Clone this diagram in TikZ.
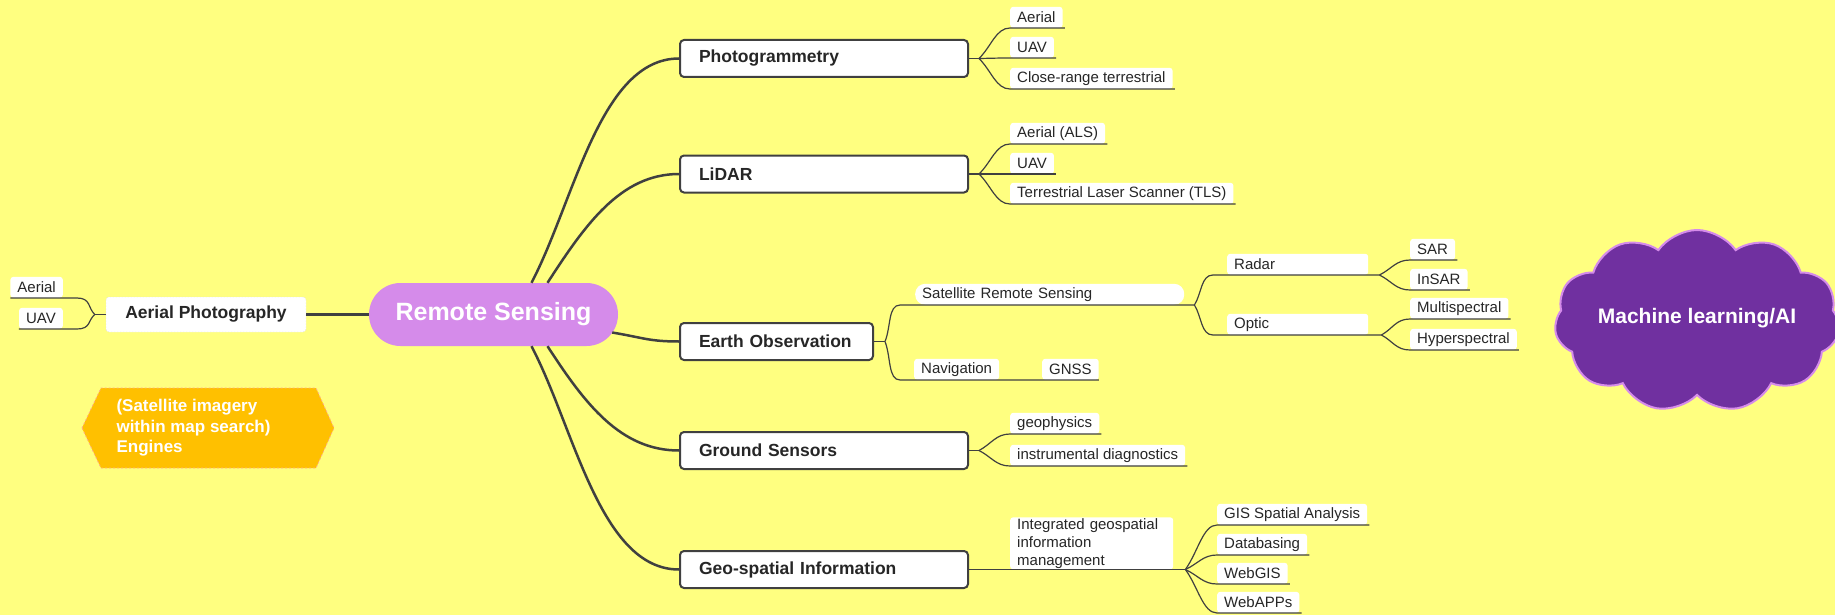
\documentclass[tikz,border=0pt]{standalone}
\usepackage{fontspec}
\setmainfont{Liberation Sans}
\usetikzlibrary{calc,positioning,shapes.symbols}
\definecolor{bgyellow}{HTML}{FFFF80}
\definecolor{hubpurple}{HTML}{D58BEA}
\definecolor{cloudpurple}{HTML}{7030A0}
\definecolor{engorange}{HTML}{FFC000}
\definecolor{linegray}{HTML}{404040}
\begin{document}
\begin{tikzpicture}[x=1pt,y=-1pt,
	hub/.style={fill=hubpurple,text=white,font=\fontsize{25}{30}\selectfont\bfseries,minimum width=249pt,minimum height=63pt,rounded corners=31.5pt,inner sep=0pt},
	branch/.style={anchor=west,draw=linegray,line width=2pt,fill=white,rounded corners=4pt,minimum height=37pt,inner xsep=19pt,text width=250pt,align=left,text=black!85,font=\fontsize{17.5}{21}\selectfont\bfseries},
	leaf/.style={anchor=south west,fill=white,rounded corners=3pt,minimum height=21pt,inner xsep=7pt,inner ysep=1pt,align=left,text=black!85,font=\fontsize{15}{18}\selectfont},
	limb/.style={draw=linegray,line width=2.5pt},
	twig/.style={draw=linegray,line width=1.2pt},
	]
	\fill[bgyellow] (0,0) rectangle (1835,615);
	\useasboundingbox (0,0) rectangle (1835,615);
	%\draw[color=gray,step=50, help lines,opacity=0.3] (0,0) grid (1835,615); %help grid
	
	% centre and left side
	\node[hub] (rs) at (493.5,314.5) {Remote Sensing};
	\node[fill=white,draw=gray!25,dash pattern=on 1.5pt off 1.5pt,rounded corners=3pt,minimum width=200pt,minimum height=35pt,text=black!85,font=\fontsize{17.5}{21}\selectfont\bfseries] (ap) at (206,314.5) {Aerial Photography};
	\node[leaf,anchor=south east] (ap1) at (63,298) {Aerial};
	\node[leaf,anchor=south east] (ap2) at (63,329) {UAV};
	\coordinate (apJ) at ([xshift=-11pt]ap.west);
	\draw[limb] (ap.east) -- (rs.west);
	\draw[twig] (ap.west) -- (apJ);
	\foreach \l in {ap1,ap2}{
		\coordinate (\l U) at ([xshift=14pt]\l.south east);
		\draw[twig] (apJ) .. controls ($(apJ)!.4!(\l U)$) and +(14,0) .. (\l U) -- (\l.south west);
	}
	\fill[engorange,draw=pink!70!orange,dash pattern=on 2pt off 2pt,line width=0.8pt] (82,428) -- (101,388) -- (316,388) -- (334,428) -- (316,468) -- (101,468) -- cycle;
	\node[anchor=west,align=left,text=white,font=\fontsize{17}{20.5}\selectfont\bfseries] (eng) at (113,428) {(Satellite imagery\\within map search)\\Engines};
	
	% main branches
	\node[branch] (pg) at (679,58.5) {Photogrammetry};
	\node[branch] (li) at (679,174) {LiDAR};
	\node[branch,text width=155pt] (eo) at (679,341.5) {Earth Observation};
	\node[branch] (gs) at (679,450.5) {Ground Sensors};
	\node[branch] (gsi) at (679,569.5) {Geo-spatial Information};
	\draw[limb] ([xshift=38pt]rs.north) .. controls +(43,-82) and +(-79,0) .. (pg.west);
	\draw[limb] ([xshift=54pt]rs.north) .. controls +(37,-57) and +(-59,0) .. (li.west);
	\draw[limb] ([xshift=-6pt,yshift=-18pt]rs.east) .. controls +(30,5) and +(-30,0) .. (eo.west);
	\draw[limb] ([xshift=54pt]rs.south) .. controls +(37,57) and +(-59,0) .. (gs.west);
	\draw[limb] ([xshift=38pt]rs.south) .. controls +(43,82) and +(-79,0) .. (gsi.west);
	
	% photogrammetry, lidar, ground sensors
	\node[leaf] (pg1) at (1010,28) {Aerial};
	\node[leaf] (pg2) at (1010,58) {UAV};
	\node[leaf] (pg3) at (1010,89) {Close-range terrestrial};
	\node[leaf] (li1) at (1010,144) {Aerial (ALS)};
	\node[leaf] (li2) at (1010,174) {UAV};
	\node[leaf] (li3) at (1010,204) {Terrestrial Laser Scanner (TLS)};
	\node[leaf] (gs1) at (1010,434) {geophysics};
	\node[leaf] (gs2) at (1010,466) {instrumental diagnostics};
	\foreach \b in {pg,li,gs}{
		\coordinate (\b J) at ([xshift=10pt]\b.east);
		\draw[twig] (\b.east) -- (\b J);
	}
	\foreach \l/\j in {pg1/pgJ,pg2/pgJ,pg3/pgJ,li1/liJ,li2/liJ,li3/liJ,gs1/gsJ,gs2/gsJ}
		\draw[twig] (\j) .. controls ($(\j)!.4!(\l.south west)$) and +(-14,0) .. (\l.south west) -- ([xshift=2pt]\l.south east);
	
	% earth observation
	\node[leaf,text width=255pt,rounded corners=10pt] (srs) at (915,305) {Satellite Remote Sensing};
	\node[leaf] (nav) at (914,380) {Navigation};
	\node[leaf] (gnss) at (1042,380) {GNSS};
	\node[leaf,text width=127pt] (radar) at (1227,275) {Radar};
	\node[leaf,text width=127pt] (optic) at (1227,335) {Optic};
	\node[leaf] (sar) at (1410,260) {SAR};
	\node[leaf] (insar) at (1410,290) {InSAR};
	\node[leaf] (multi) at (1410,319) {Multispectral};
	\node[leaf] (hyper) at (1410,350) {Hyperspectral};
	\coordinate (eoJ) at ([xshift=11pt]eo.east);
	\coordinate (srsU) at ([xshift=-15pt]srs.south west);
	\coordinate (navU) at ([xshift=-14pt]nav.south west);
	\coordinate (srsJ) at ([xshift=10pt]srs.south east);
	\coordinate (radarU) at ([xshift=-14pt]radar.south west);
	\coordinate (opticU) at ([xshift=-14pt]optic.south west);
	\coordinate (radarJ) at ([xshift=11pt]radar.south east);
	\coordinate (opticJ) at ([xshift=13pt]optic.south east);
	\draw[twig] (eo.east) -- (eoJ);
	\draw[twig] (eoJ) .. controls ($(eoJ)!.4!(srsU)$) and +(-12,0) .. (srsU) -- (srsJ);
	\draw[twig] (eoJ) .. controls ($(eoJ)!.4!(navU)$) and +(-12,0) .. (navU) -- (gnss.south east);
	\foreach \u/\j in {radarU/radarJ,opticU/opticJ}
		\draw[twig] (srsJ) .. controls ($(srsJ)!.4!(\u)$) and +(-12,0) .. (\u) -- (\j);
	\foreach \l/\j in {sar/radarJ,insar/radarJ,multi/opticJ,hyper/opticJ}
		\draw[twig] (\j) .. controls ($(\j)!.4!(\l.south west)$) and +(-14,0) .. (\l.south west) -- ([xshift=2pt]\l.south east);
	
	% geo-spatial information
	\node[leaf,text width=149pt] (igim) at (1010,569.5) {Integrated geospatial\\information\\management};
	\node[leaf] (gi1) at (1217,525) {GIS Spatial Analysis};
	\node[leaf] (gi2) at (1217,555) {Databasing};
	\node[leaf] (gi3) at (1217,584) {WebGIS};
	\node[leaf] (gi4) at (1217,613) {WebAPPs};
	\coordinate (giJ) at ([xshift=12pt]igim.south east);
	\draw[twig] (gsi.east) -- (igim.south west) -- (giJ);
	\foreach \l in {gi1,gi2,gi3,gi4}
		\draw[twig] (giJ) .. controls ($(giJ)!.4!(\l.south west)$) and +(-14,0) .. (\l.south west) -- ([xshift=2pt]\l.south east);
	
	% cloud
	\node[cloud,cloud puffs=11,cloud puff arc=110,cloud ignores aspect,fill=cloudpurple,draw=hubpurple,line width=2pt,minimum width=285pt,minimum height=182pt,inner sep=0pt] (ml) at (1697,321) {};
	\node[text=white,font=\fontsize{21}{25}\selectfont\bfseries] (mltext) at ([yshift=3pt]ml.center) {Machine learning/AI};
\end{tikzpicture}
\end{document}
